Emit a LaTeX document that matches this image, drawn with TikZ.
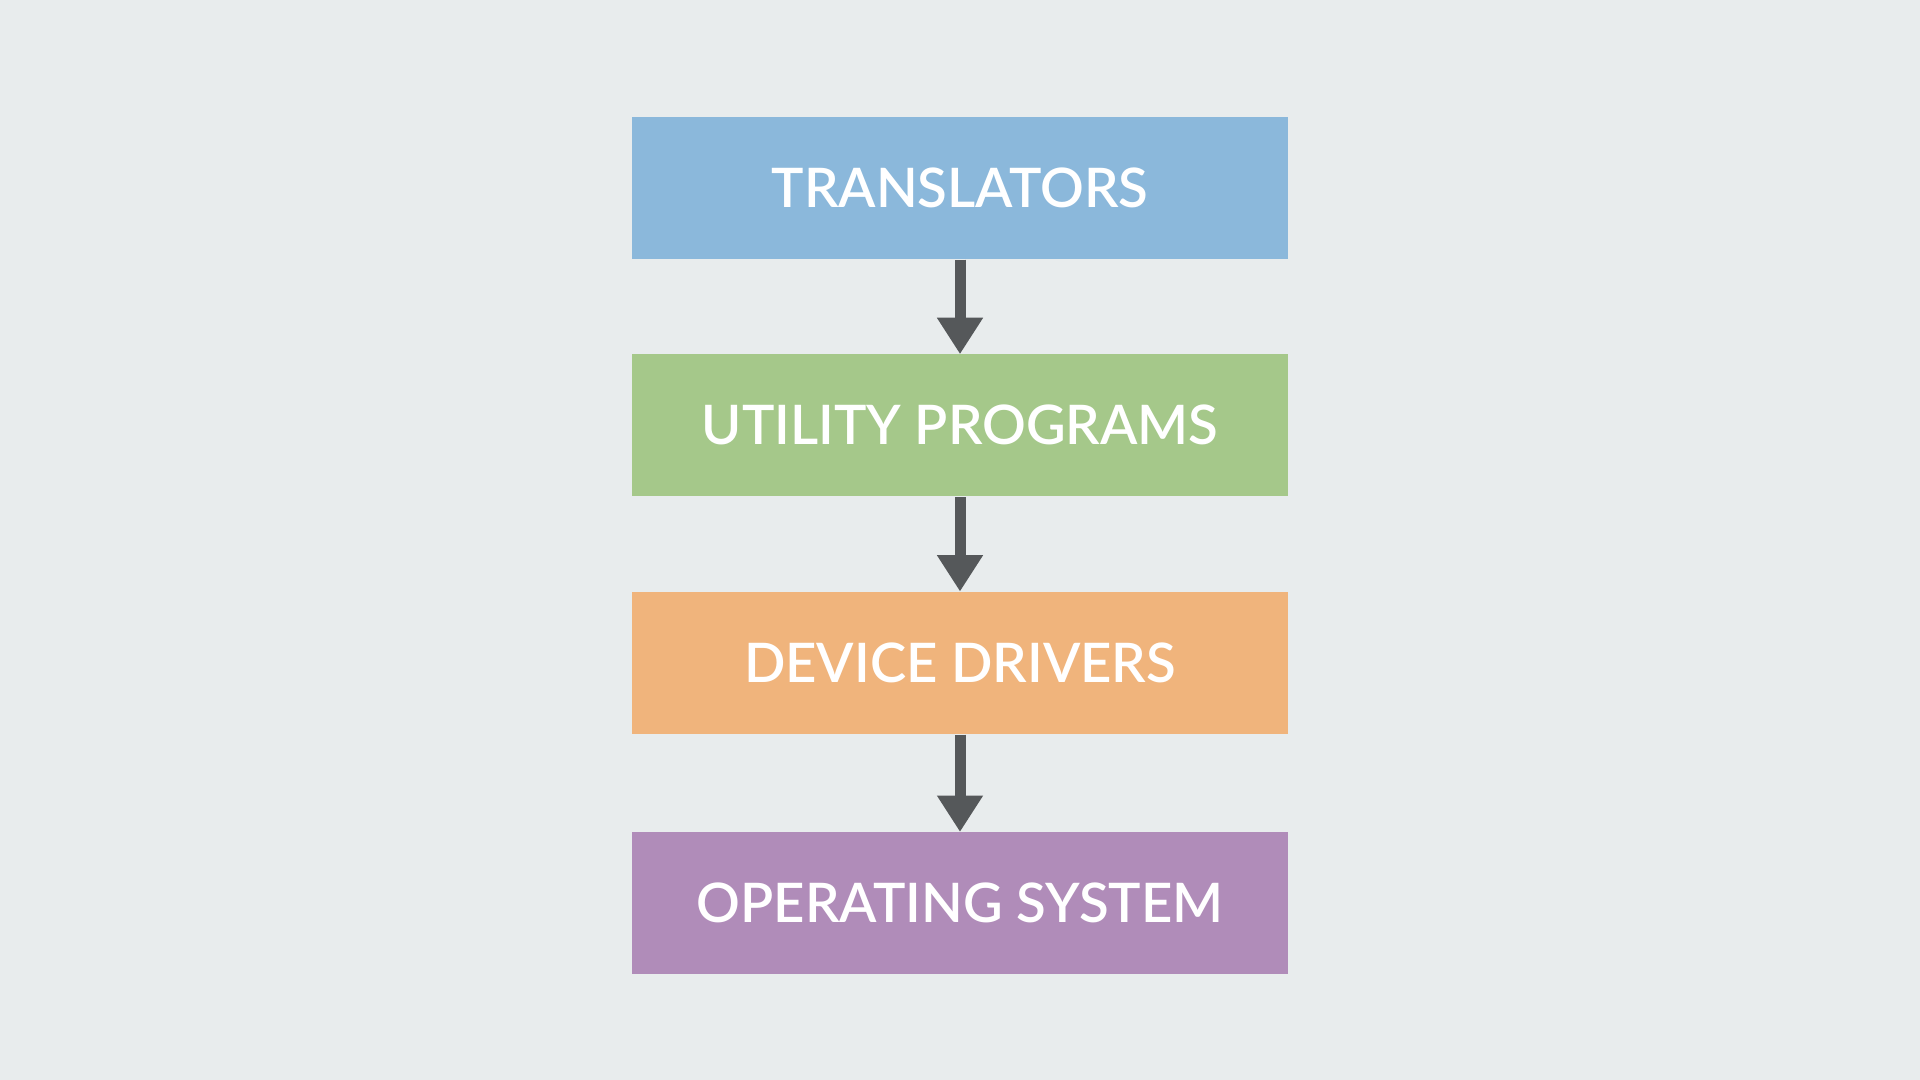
\documentclass[tikz,border=0pt]{standalone}
\usepackage{fontspec}
\setmainfont{Lato}[BoldFont={Lato Semibold}]
\usepackage{tikz}
\usetikzlibrary{
  arrows.meta,
  positioning
}
\definecolor{bgcol}{HTML}{E8ECED}
\definecolor{transcol}{HTML}{8BB8DB}
\definecolor{utilcol}{HTML}{A5C88A}
\definecolor{drivcol}{HTML}{F0B47C}
\definecolor{oscol}{HTML}{B08CB9}
\definecolor{arrcol}{HTML}{55585A}

\begin{document}
\begin{tikzpicture}[
  >={Triangle[width=0.46cm,length=0.36cm,line width=0.5pt,fill=arrcol]},
  layer/.style={minimum width=6.56cm,minimum height=1.42cm,inner sep=0pt,
    text=white,font=\fontsize{15.5}{18}\selectfont\bfseries},
  flow/.style={line width=0.11cm,arrcol,->}
]
  \fill[bgcol] (0,0) rectangle (19.2,10.8);
  \useasboundingbox (0,0) rectangle (19.2,10.8);
  \node[layer,fill=transcol] (T) at (9.6,8.92) {TRANSLATORS};
  \node[layer,fill=utilcol,below=0.94cm of T] (U) {UTILITY PROGRAMS};
  \node[layer,fill=drivcol,below=0.94cm of U] (D) {DEVICE DRIVERS};
  \node[layer,fill=oscol,below=0.97cm of D] (O) {OPERATING SYSTEM};
  \draw[flow] (T.south) -- (U.north);
  \draw[flow] (U.south) -- (D.north);
  \draw[flow] (D.south) -- (O.north);
\end{tikzpicture}
\end{document}
